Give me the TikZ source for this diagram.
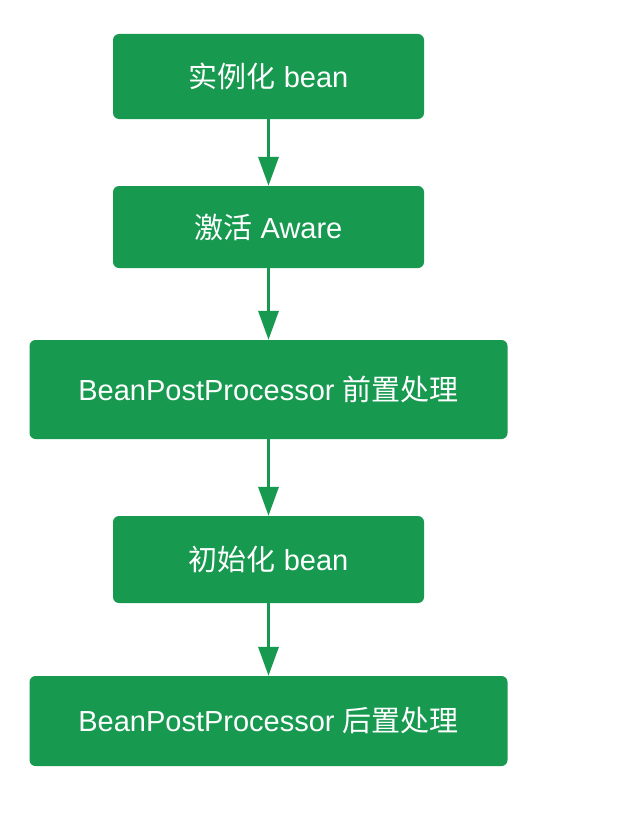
\documentclass[tikz,border=0pt]{standalone}
\usepackage{fontspec}
\setmainfont{Liberation Sans}
\newfontfamily\cjk{Noto Sans CJK SC}
\usetikzlibrary{arrows.meta}
\definecolor{springgreen}{RGB}{23,153,80}
\tikzset{
  >={Triangle[length=29pt,width=20pt]},
  stage/.style={fill=springgreen,text=white,rounded corners=6pt,
    minimum width=#1,inner sep=0pt,align=center,
    font=\fontsize{29}{33}\selectfont},
  stage/.default=311pt,
  link/.style={->,line width=3.5pt,draw=springgreen},
}
\begin{document}
\begin{tikzpicture}[x=1pt,y=-1pt]
    \useasboundingbox (0,0) rectangle (620,816);
    \node[stage,minimum height=85pt] (inst) at (268.5,76.5) {{\cjk 实例化} bean};
    \node[stage,minimum height=82pt] (aware) at (268.5,227) {{\cjk 激活} Aware};
    \node[stage=478pt,minimum height=99pt] (pre) at (268.5,389.5) {BeanPostProcessor {\cjk 前置处理}};
    \node[stage,minimum height=87pt] (init) at (268.5,559.5) {{\cjk 初始化} bean};
    \node[stage=478pt,minimum height=90pt] (post) at (268.5,721) {BeanPostProcessor {\cjk 后置处理}};
    \draw[link] (inst) -- (aware);
    \draw[link] (aware) -- (pre);
    \draw[link] (pre) -- (init);
    \draw[link] (init) -- (post);
\end{tikzpicture}
\end{document}
